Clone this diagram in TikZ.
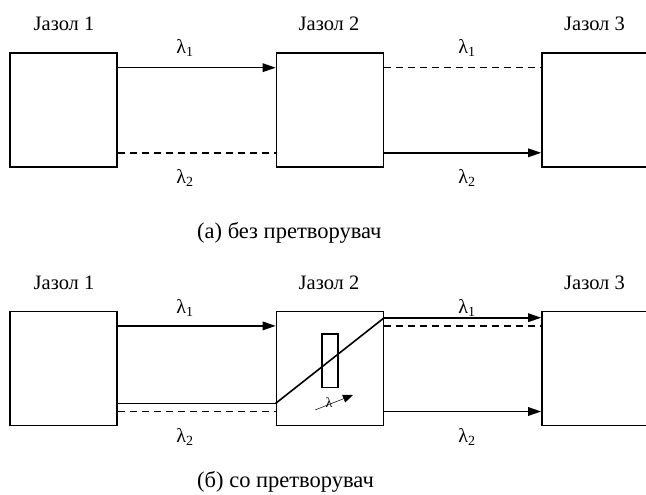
\documentclass[tikz,border=0pt]{standalone}
\usepackage{fontspec}
\setmainfont{Liberation Serif}
\usetikzlibrary{arrows.meta}
\tikzset{
  every node/.style={font=\fontsize{20.5}{23}\selectfont, inner sep=0pt},
  box/.style={draw, rectangle, line width=1.6pt, minimum width=107pt, minimum height=114pt},
  conn/.style={line width=1.6pt},
  arr/.style={line width=1.6pt, -{Triangle[length=13pt,width=8.5pt]}},
  dsh/.style={line width=1.6pt, dash pattern=on 7pt off 5pt},
  filterbox/.style={draw, rectangle, line width=1.4pt, minimum width=16pt, minimum height=53.5pt},
  smalllam/.style={font=\fontsize{14}{16}\selectfont},
  lamlbl/.style={font=\fontsize{20}{22}\selectfont},
  captext/.style={font=\fontsize{22.5}{25}\selectfont, anchor=west},
}
\begin{document}
\begin{tikzpicture}[x=1pt,y=1pt]
\useasboundingbox (0,0) rectangle (646,-495);
% ---------- (a) ----------
\node[box] (a1) at (63.5,-110) {};
\node[box] (a2) at (330,-110) {};
\node[box] (a3) at (595.5,-110) {};
\node (la1) at (64,-24) {Јазол 1};
\node (la2) at (329,-24) {Јазол 2};
\node (la3) at (594.5,-24) {Јазол 3};
\draw[arr] ([yshift=-15.5pt]a1.north east) -- ([yshift=-15.5pt]a2.north west);
\draw[dsh] ([yshift=15pt]a1.south east) -- ([yshift=15pt]a2.south west);
\draw[dsh] ([yshift=-15.5pt]a2.north east) -- ([yshift=-15.5pt]a3.north west);
\draw[arr] ([yshift=15pt]a2.south east) -- ([yshift=15pt]a3.south west);
\node[lamlbl] (ta1) at (185,-48) {λ\textsubscript{1}};
\node[lamlbl] (ta2) at (185,-178) {λ\textsubscript{2}};
\node[lamlbl] (ta3) at (467,-48) {λ\textsubscript{1}};
\node[lamlbl] (ta4) at (467,-178) {λ\textsubscript{2}};
\node[captext] (capa) at (197,-233) {(а) без претворувач};
% ---------- (b) ----------
\node[box] (b1) at (63.5,-368.5) {};
\node[box] (b2) at (330,-368.5) {};
\node[box] (b3) at (595.5,-368.5) {};
\node (lb1) at (64,-283) {Јазол 1};
\node (lb2) at (329,-283) {Јазол 2};
\node (lb3) at (594.5,-283) {Јазол 3};
\draw[arr] ([yshift=-15.2pt]b1.north east) -- ([yshift=-15.2pt]b2.north west);
\draw[conn] ([yshift=23pt]b1.south east) -- ([yshift=23pt]b2.south west);
\draw[dsh] ([yshift=14.8pt]b1.south east) -- ([yshift=14.8pt]b2.south west);
\draw[conn] ([yshift=23pt]b2.south west) -- ([yshift=-7pt]b2.north east);
\draw[arr] ([yshift=-7pt]b2.north east) -- ([yshift=-7pt]b3.north west);
\draw[dsh] ([yshift=-15.2pt]b2.north east) -- ([yshift=-15.2pt]b3.north west);
\draw[arr] ([yshift=14.8pt]b2.south east) -- ([yshift=14.8pt]b3.south west);
\node[filterbox] (flt) at (330,-360.75) {};
\coordinate (s0) at (315,-410);
\coordinate (s1) at (353,-395);
\node[smalllam] (lam) at (329,-403) {λ};
\draw[line width=0.5pt, -{Triangle[length=10pt,width=8pt]}] (s0) -- (s1);
\node[lamlbl] (tb1) at (185,-308) {λ\textsubscript{1}};
\node[lamlbl] (tb2) at (185,-437) {λ\textsubscript{2}};
\node[lamlbl] (tb3) at (467,-308) {λ\textsubscript{1}};
\node[lamlbl] (tb4) at (467,-437) {λ\textsubscript{2}};
\node[captext] (capb) at (197,-482) {(б) со претворувач};
\end{tikzpicture}
\end{document}
